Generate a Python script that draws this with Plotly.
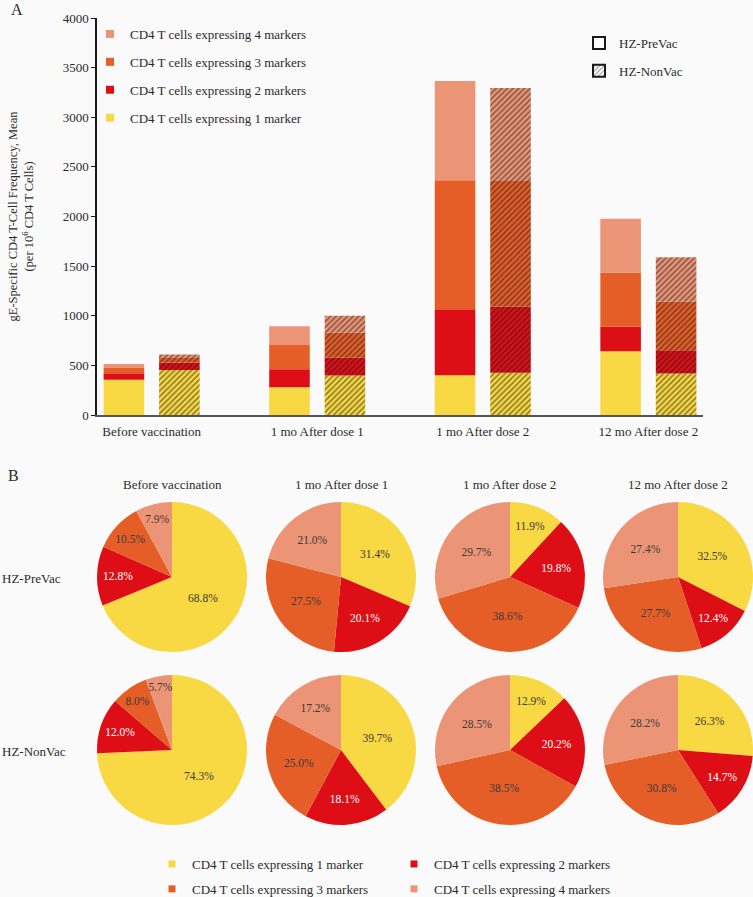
import numpy as np
import plotly.graph_objects as go

W, H = 753, 897

timepoints = ['Before vaccination', '1 mo After dose 1', '1 mo After dose 2', '12 mo After dose 2']
marker_names = [
    'CD4 T cells expressing 1 marker',
    'CD4 T cells expressing 2 markers',
    'CD4 T cells expressing 3 markers',
    'CD4 T cells expressing 4 markers',
]
colors = ['#F8D843', '#DE0E17', '#E55E28', '#EC9576']
text_colors = ['#3a3a3a', '#ffffff', '#3a3a3a', '#3a3a3a']

# mean frequency per 10^6 CD4 T cells, one list per marker count (stack segments)
prevac_1 = [354, 280, 400, 643]
prevac_2 = [66, 180, 666, 245]
prevac_3 = [54, 246, 1299, 548]
prevac_4 = [41, 188, 999, 542]
nonvac_1 = [453, 397, 425, 418]
nonvac_2 = [73, 181, 665, 234]
nonvac_3 = [49, 250, 1267, 489]
nonvac_4 = [35, 172, 938, 448]

# pie percentages (1, 2, 3, 4 markers) per time point
prevac_pct = [
    [68.8, 12.8, 10.5, 7.9],
    [31.4, 20.1, 27.5, 21.0],
    [11.9, 19.8, 38.6, 29.7],
    [32.5, 12.4, 27.7, 27.4],
]
nonvac_pct = [
    [74.3, 12.0, 8.0, 5.7],
    [39.7, 18.1, 25.0, 17.2],
    [12.9, 20.2, 38.5, 28.5],
    [26.3, 14.7, 30.8, 28.2],
]

FONT = 'Liberation Serif, Times New Roman, serif'
BG = '#FAFAFA'


def px_x(x):
    return min(max(x / W, 0), 1)


def px_y(y):
    return min(max(1 - y / H, 0), 1)


fig = go.Figure()

# ---- panel A: grouped stacked bars ----
bar_w = 0.245
groups = [
    ('HZ-PreVac', [prevac_1, prevac_2, prevac_3, prevac_4], -0.29, False),
    ('HZ-NonVac', [nonvac_1, nonvac_2, nonvac_3, nonvac_4], 0.045, True),
]
for gname, segs, off, hatched in groups:
    base = np.zeros(len(timepoints))
    for i, seg in enumerate(segs):
        marker = dict(color=colors[i], line=dict(width=0))
        if hatched:
            marker['pattern'] = dict(shape='/', fgcolor='#1a1a1a', bgcolor=colors[i],
                                     fillmode='overlay', size=4, solidity=0.38)
        fig.add_trace(go.Bar(
            x=timepoints, y=seg, base=base.copy(), width=bar_w, offset=off,
            marker=marker, name=f'{gname}: {marker_names[i]}', showlegend=False,
        ))
        base += np.array(seg)

# legend entries for marker counts (top-left, reversed order)
for i in [3, 2, 1, 0]:
    fig.add_trace(go.Scatter(
        x=[None], y=[None], mode='markers', name=marker_names[i],
        marker=dict(symbol='square', size=8, color=colors[i]),
        legend='legend', legendgroup=f'm{i}',
    ))

# legend entries for groups
fig.add_trace(go.Bar(x=[None], y=[None], name='HZ-PreVac', legend='legend2', legendgroup='pre',
                     marker=dict(color='white', line=dict(color='#1a1a1a', width=2))))
fig.add_trace(go.Bar(x=[None], y=[None], name='HZ-NonVac', legend='legend2', legendgroup='non',
                     marker=dict(color='white', line=dict(color='#1a1a1a', width=2),
                                 pattern=dict(shape='/', fgcolor='#1a1a1a', bgcolor='white',
                                              fillmode='overlay', size=4, solidity=0.3))))

# bottom legend (two columns)
for i in range(4):
    fig.add_trace(go.Scatter(
        x=[None], y=[None], mode='markers', name=marker_names[i],
        marker=dict(symbol='square', size=7, color=colors[i]),
        legend='legend3' if i % 2 == 0 else 'legend4', legendgroup=f'b{i}',
    ))

# ---- panel B: pies ----
pie_cx = [172, 341, 510, 678]
row_cy = [577, 750]
R = 75
for r, (cy, pcts) in enumerate(zip(row_cy, [prevac_pct, nonvac_pct])):
    for c, cx in enumerate(pie_cx):
        fig.add_trace(go.Pie(
            labels=marker_names, values=pcts[c], sort=False, direction='clockwise',
            rotation=0, showlegend=False,
            marker=dict(colors=colors, line=dict(width=0)),
            texttemplate='%{value:.1f}%', textposition='inside',
            insidetextorientation='horizontal',
            insidetextfont=dict(color=text_colors, size=11.5, family=FONT),
            hoverinfo='label+value',
            domain=dict(x=[px_x(cx - R), px_x(cx + R)], y=[px_y(cy + R), px_y(cy - R)]),
        ))


def label(x, y, text, size=13, xanchor='left'):
    return dict(x=px_x(x), y=px_y(y), xref='paper', yref='paper', xanchor=xanchor,
                yanchor='middle', text=text, showarrow=False, font=dict(size=size))


annotations = [label(cx, 484, timepoints[c], xanchor='center') for c, cx in enumerate(pie_cx)]
annotations += [
    label(0, 578, 'HZ-PreVac'),
    label(0, 751, 'HZ-NonVac'),
    label(9, 10, 'A', size=16),
    label(6, 475, 'B', size=16),
]

legend_common = dict(bgcolor='rgba(0,0,0,0)', font=dict(size=13, family=FONT, color='#2a2a2a'),
                     xanchor='left', yanchor='top', itemclick=False, itemdoubleclick=False)

fig.update_layout(
    width=W, height=H,
    margin=dict(l=0, r=0, t=0, b=0, autoexpand=False),
    paper_bgcolor=BG, plot_bgcolor=BG,
    font=dict(family=FONT, size=13, color='#2a2a2a'),
    barmode='overlay',
    showlegend=True,
    uniformtext=dict(minsize=11, mode='show'),
    xaxis=dict(domain=[px_x(97), px_x(703)], range=[-0.33, 3.33], showgrid=False,
               zeroline=False, showline=True, linecolor='#555555', linewidth=2,
               ticks='', tickfont=dict(size=13), ticklabelstandoff=3),
    yaxis=dict(domain=[px_y(415), px_y(18)], range=[0, 4000], dtick=500, showgrid=False,
               zeroline=False, showline=True, linecolor='#1a1a1a', linewidth=1.5,
               ticks='outside', ticklen=4, tickcolor='#1a1a1a', tickfont=dict(size=13),
               title=dict(text='gE-Specific CD4 T-Cell Frequency, Mean<br>(per 10<sup>6</sup> CD4 T Cells)',
                          font=dict(size=12.5), standoff=26)),
    legend=dict(x=px_x(90), y=px_y(19), tracegroupgap=8, **legend_common),
    legend2=dict(x=px_x(579), y=px_y(28), tracegroupgap=8, **legend_common),
    legend3=dict(x=px_x(152), y=px_y(849), tracegroupgap=5, **legend_common),
    legend4=dict(x=px_x(394), y=px_y(849), tracegroupgap=5, **legend_common),
    annotations=annotations,
)

# drop the default 8px page margin so the figure sits at the window origin
fig.write_html('out.html', config={'displayModeBar': False},
               post_script="document.body.style.margin='0';")
